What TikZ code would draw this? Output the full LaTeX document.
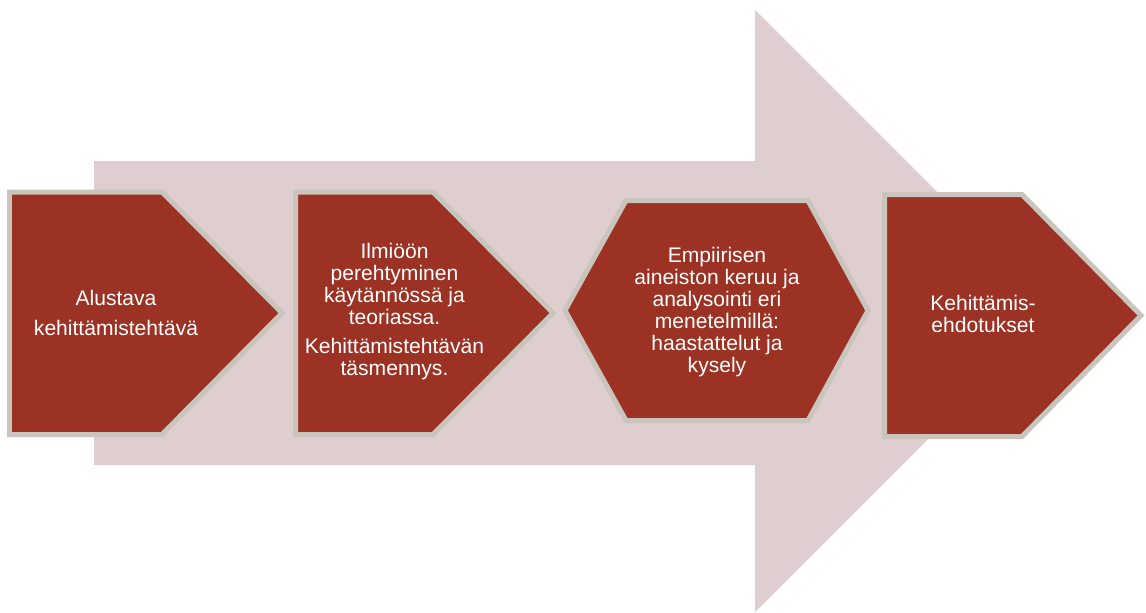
\documentclass[tikz,border=0pt]{standalone}
\usepackage{fontspec}
\setmainfont{Liberation Sans}

\definecolor{stepred}{HTML}{9B3224}
\definecolor{stepedge}{HTML}{C9C5BD}
\definecolor{flowpink}{HTML}{DFCECF}

\begin{document}
\begin{tikzpicture}[x=0.02cm, y=-0.02cm,
		phase/.style={fill=stepred, draw=stepedge, line width=1mm},
		phasetext/.style={text=white, align=center, inner sep=0pt,
			font=\fontsize{12}{12.6}\selectfont}]

		\useasboundingbox (0, 0) rectangle (1146, 612);

		% the big arrow behind everything
		\fill [flowpink] (94, 161) -- (755, 161) -- (755, 10) -- (1056, 311)
			-- (755, 612) -- (755, 465) -- (94, 465) -- cycle;

		\draw [phase] (9.5, 192) -- (162, 192) -- (282, 313) -- (162, 434.5) -- (9.5, 434.5) -- cycle;
		\node [phasetext] (alustava) at (116, 313) {Alustava\\[4.5pt]kehittämistehtävä};

		\draw [phase] (295.5, 192) -- (433, 192) -- (553, 313) -- (433, 434.5) -- (295.5, 434.5) -- cycle;
		\node [phasetext] (ilmio) at (394.5, 311.5) {Ilmiöön\\perehtyminen\\käytännössä ja\\teoriassa.\\[4pt]Kehittämistehtävän\\täsmennys.};

		\draw [phase] (565, 310.5) -- (626, 200.5) -- (808, 200.5) -- (868, 310.5) -- (808, 420.5) -- (626, 420.5) -- cycle;
		\node [phasetext] (empiria) at (717, 312) {Empiirisen\\aineiston keruu ja\\analysointi eri\\menetelmillä:\\haastattelut ja\\kysely};

		\draw [phase] (884.5, 194.5) -- (1022, 194.5) -- (1141, 315.5) -- (1022, 436.5) -- (884.5, 436.5) -- cycle;
		\node [phasetext] (ehdotukset) at (983, 314) {Kehittämis-\\ehdotukset};
	\end{tikzpicture}
\end{document}
